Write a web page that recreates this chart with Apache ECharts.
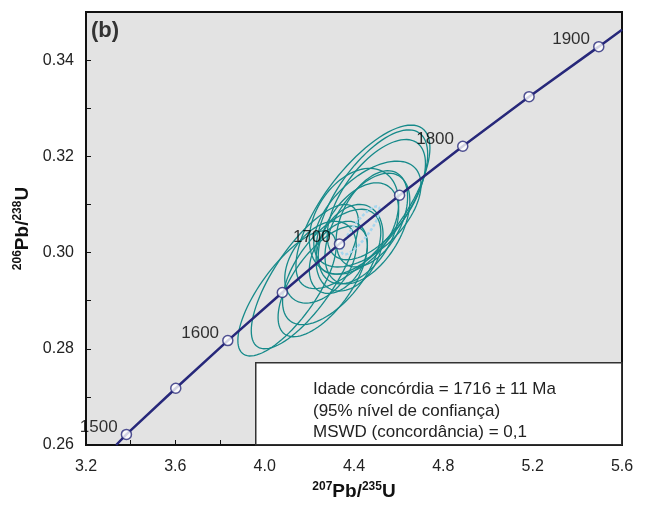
<!DOCTYPE html>
<html>
<head>
<meta charset="utf-8">
<script src="https://cdn.jsdelivr.net/npm/echarts@6/dist/echarts.min.js"></script>
<style>
  html, body { margin: 0; padding: 0; background: #fff; }
  #draw { width: 645px; height: 506px; }
</style>
</head>
<body>
<div id="draw"></div>
<script>
// concordia marks (age in Ma, 207Pb/235U, 206Pb/238U)
var ages = [1500, 1550, 1600, 1650, 1700, 1750, 1800, 1850, 1900];
var ageX = [3.381, 3.602, 3.835, 4.079, 4.335, 4.604, 4.887, 5.184, 5.496];
var ageY = [0.2622, 0.2718, 0.2817, 0.2917, 0.3018, 0.3119, 0.3221, 0.3324, 0.3428];
// where the curve leaves the frame
var curveStart = [3.335, 0.26];
var curveEnd = [5.6, 0.3463];

// error ellipses: centre, errors and error correlation
var ellX = [4.10, 4.18, 4.26, 4.25, 4.33, 4.38, 4.42, 4.46, 4.48, 4.40, 4.44, 4.48, 4.50, 4.46, 4.30];
var ellY = [0.2915, 0.2950, 0.2940, 0.2980, 0.2990, 0.3010, 0.3040, 0.3050, 0.3070, 0.3065, 0.3095, 0.3105, 0.3110, 0.3080, 0.2970];
var ellSx = [0.22, 0.24, 0.20, 0.16, 0.13, 0.15, 0.18, 0.19, 0.16, 0.20, 0.30, 0.25, 0.22, 0.24, 0.22];
var ellSy = [0.0130, 0.0150, 0.0115, 0.0085, 0.0075, 0.0090, 0.0105, 0.0115, 0.0100, 0.0110, 0.0170, 0.0150, 0.0125, 0.0110, 0.0120];
var ellRho = [0.75, 0.75, 0.65, 0.40, 0.35, 0.30, 0.45, 0.50, 0.45, 0.35, 0.72, 0.66, 0.60, 0.55, 0.60];

// concordia age ellipse
var concEll = [4.43, 0.3046, 0.085, 0.005, 0.85];

var infoLines = ['Idade concórdia = 1716 ± 11 Ma', '(95% nível de confiança)', 'MSWD (concordância) = 0,1'];

var myChart = echarts.init(document.getElementById('draw'));

var ellData = ellX.map(function(x, i) {
	return [x, ellY[i], ellSx[i], ellSy[i], ellRho[i]];
});

function ellipseItem(color, width, dash) {
	return function(params, api) {
		var cx = api.value(0), cy = api.value(1);
		var sx = api.value(2), sy = api.value(3), r = api.value(4);
		var pts = [];
		for (var k = 0; k <= 90; k++) {
			var t = k / 90 * Math.PI * 2;
			var x = cx + sx * Math.cos(t);
			var y = cy + sy * (r * Math.cos(t) + Math.sqrt(1 - r * r) * Math.sin(t));
			pts.push(api.coord([x, y]));
		}
		return {
			type: 'polyline',
			shape: { points: pts },
			style: { fill: null, stroke: color, lineWidth: width, lineDash: dash }
		};
	};
}

var lineData = [curveStart].concat(ageX.map(function(x, i) { return [x, ageY[i]]; })).concat([curveEnd]);
var markData = ageX.map(function(x, i) {
	return { value: [x, ageY[i]], age: ages[i] };
});

var font = 'Liberation Sans, Arial, sans-serif';

option = {
	animation: false,
	grid: {
		left: 86, right: 23, top: 12, bottom: 60,
		show: true,
		backgroundColor: '#e3e3e3',
		borderColor: '#111',
		borderWidth: 2
	},
	xAxis: {
		type: 'value',
		min: 3.2, max: 5.6, interval: 0.2,
		name: '{sup|207}{main|Pb/}{sup|235}{main|U}',
		nameLocation: 'middle',
		nameGap: 36,
		nameTextStyle: {
			rich: {
				main: { fontSize: 19, fontWeight: 'bold', fontFamily: font, color: '#111', verticalAlign: 'bottom' },
				sup: { fontSize: 12, fontWeight: 'bold', fontFamily: font, color: '#111', verticalAlign: 'top', padding: [0, 0, 8, 0] }
			}
		},
		axisLine: { lineStyle: { color: '#111', width: 2 } },
		axisTick: { inside: true, length: 5, lineStyle: { color: '#111' } },
		splitLine: { show: false },
		axisLabel: {
			margin: 14,
			fontSize: 16, fontFamily: font, color: '#222',
			formatter: function(v) {
				return Math.round(v * 10) % 4 == 0 ? v.toFixed(1) : '';
			}
		}
	},
	yAxis: {
		type: 'value',
		min: 0.26, max: 0.35, interval: 0.01,
		name: '{sup|206}{main|Pb/}{sup|238}{main|U}',
		nameLocation: 'middle',
		nameGap: 48,
		nameTextStyle: {
			rich: {
				main: { fontSize: 19, fontWeight: 'bold', fontFamily: font, color: '#111', verticalAlign: 'bottom' },
				sup: { fontSize: 12, fontWeight: 'bold', fontFamily: font, color: '#111', verticalAlign: 'top', padding: [0, 0, 8, 0] }
			}
		},
		axisLine: { lineStyle: { color: '#111', width: 2 } },
		axisTick: { inside: true, length: 5, lineStyle: { color: '#111' } },
		splitLine: { show: false },
		axisLabel: {
			margin: 12,
			fontSize: 16, fontFamily: font, color: '#222',
			formatter: function(v) {
				var n = Math.round(v * 100);
				return (n % 2 == 0 && n < 35) ? v.toFixed(2) : '';
			}
		}
	},
	graphic: [{
		type: 'text', left: 91, top: 20,
		style: { text: '(b)', fontSize: 22, fontWeight: 'bold', fontFamily: font, fill: '#333' }
	}, {
		type: 'rect', left: 255, top: 362, z: 10,
		shape: { width: 366, height: 82 },
		style: { fill: '#fff', stroke: '#333', lineWidth: 1.5 }
	}, {
		type: 'text', left: 313, top: 379, z: 11,
		style: { text: infoLines.join('\n'), fontSize: 17, lineHeight: 21.5, fontFamily: font, fill: '#222' }
	}],
	series: [{
		type: 'custom',
		name: 'elipses',
		renderItem: ellipseItem('#168a8a', 1.3, null),
		data: ellData,
		z: 2
	}, {
		type: 'custom',
		name: 'concordia idade',
		renderItem: ellipseItem('#a6d6ee', 2.5, [3, 2]),
		data: [concEll],
		z: 3
	}, {
		type: 'line',
		name: 'concordia',
		data: lineData,
		showSymbol: false,
		lineStyle: { color: '#27287a', width: 2.5 },
		z: 4
	}, {
		type: 'scatter',
		data: markData,
		symbol: 'circle',
		symbolSize: 10,
		itemStyle: { color: '#fff', borderColor: '#27287a', borderWidth: 1.5 },
		label: {
			show: true,
			position: 'left',
			distance: 3,
			offset: [0, -7],
			fontSize: 17, fontFamily: font, color: '#000',
			formatter: function(p) {
				return p.data.age % 100 == 0 ? String(p.data.age) : '';
			}
		},
		z: 5
	}]
};
myChart.setOption(option);
</script>
</body>
</html>
